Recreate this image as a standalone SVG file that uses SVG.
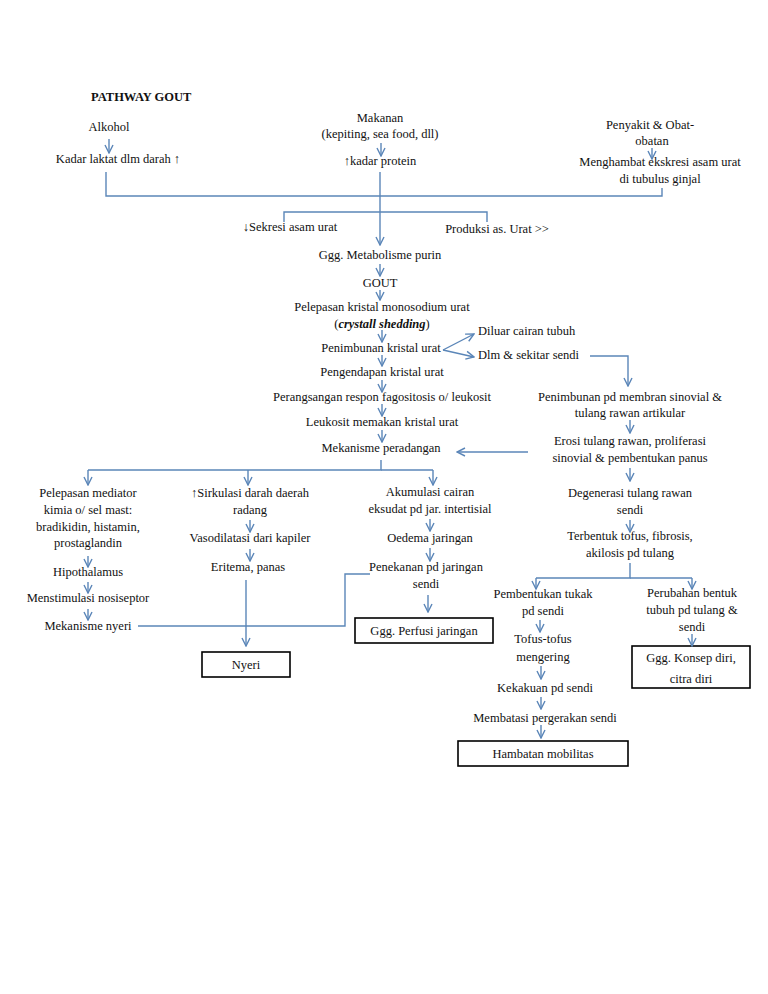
<svg xmlns="http://www.w3.org/2000/svg" width="768" height="994" viewBox="0 0 768 994">
<defs>
<marker id="a" viewBox="0 0 10 10" refX="9" refY="5" markerWidth="10" markerHeight="10" markerUnits="userSpaceOnUse" orient="auto">
<path d="M1,1 L9,5 L1,9" fill="none" stroke="#5b86b8" stroke-width="1.4"/>
</marker>
<style>
text{font-family:"Liberation Serif","Times New Roman",serif;font-size:12.5px;fill:#111;text-anchor:middle}
.l{text-anchor:start}
.c line,.c polyline{stroke:#5b86b8;stroke-width:1.4;fill:none}
.ar{marker-end:url(#a)}
rect{fill:#fff;stroke:#000;stroke-width:1.6}
</style>
</defs>
<rect x="0" y="0" width="768" height="994" style="stroke:none"/>
<text x="91" y="101" class="l" style="font-weight:bold">PATHWAY GOUT</text>
<g id="alkohol"><text x="109" y="131">Alkohol</text></g>
<g id="laktat"><text x="118" y="163">Kadar laktat dlm darah ↑</text></g>
<g id="makanan"><text x="380" y="122">Makanan</text><text x="380" y="138">(kepiting, sea food, dll)</text></g>
<g id="protein"><text x="380" y="165">↑kadar protein</text></g>
<g id="penyakit"><text x="650" y="129">Penyakit &amp; Obat-</text><text x="652" y="145">obatan</text></g>
<g id="menghambat"><text x="660" y="166">Menghambat ekskresi asam urat</text><text x="660" y="183">di tubulus ginjal</text></g>
<g id="sekresi"><text x="290" y="231">↓Sekresi asam urat</text></g>
<g id="produksi"><text x="497" y="233">Produksi as. Urat &gt;&gt;</text></g>
<g id="metabolisme"><text x="380" y="259">Ggg. Metabolisme purin</text></g>
<g id="gout"><text x="380" y="287">GOUT</text></g>
<g id="pelepasan"><text x="382" y="311">Pelepasan kristal monosodium urat</text><text x="382" y="328">(<tspan style="font-style:italic;font-weight:bold">crystall shedding</tspan>)</text></g>
<g id="penimbunan"><text x="381" y="352">Penimbunan kristal urat</text></g>
<g id="diluar"><text x="478" y="335" class="l">Diluar cairan tubuh</text></g>
<g id="dlm"><text x="478" y="359" class="l">Dlm &amp; sekitar sendi</text></g>
<g id="pengendapan"><text x="382" y="376">Pengendapan kristal urat</text></g>
<g id="perangsangan"><text x="382" y="401">Perangsangan respon fagositosis o/ leukosit</text></g>
<g id="leukosit"><text x="382" y="426">Leukosit memakan kristal urat</text></g>
<g id="mekanisme"><text x="381" y="452">Mekanisme peradangan</text></g>
<g id="membran"><text x="630" y="401">Penimbunan pd membran sinovial &amp;</text><text x="630" y="417">tulang rawan artikular</text></g>
<g id="erosi"><text x="630" y="445">Erosi tulang rawan, proliferasi</text><text x="630" y="462">sinovial &amp; pembentukan panus</text></g>
<g id="mediator"><text x="88" y="497">Pelepasan mediator</text><text x="88" y="514">kimia o/ sel mast:</text><text x="88" y="531">bradikidin, histamin,</text><text x="88" y="547">prostaglandin</text></g>
<g id="hipothalamus"><text x="88" y="576">Hipothalamus</text></g>
<g id="nosiseptor"><text x="88" y="602">Menstimulasi nosiseptor</text></g>
<g id="nyerimek"><text x="88" y="630">Mekanisme nyeri</text></g>
<g id="sirkulasi"><text x="250" y="497">↑Sirkulasi darah daerah</text><text x="250" y="514">radang</text></g>
<g id="vasodilatasi"><text x="250" y="542">Vasodilatasi dari kapiler</text></g>
<g id="eritema"><text x="248" y="571">Eritema, panas</text></g>
<g id="nyeri"><rect x="202" y="652" width="88" height="25"/><text x="246" y="669">Nyeri</text></g>
<g id="akumulasi"><text x="430" y="496">Akumulasi cairan</text><text x="430" y="513">eksudat pd jar. intertisial</text></g>
<g id="oedema"><text x="430" y="542">Oedema jaringan</text></g>
<g id="penekanan"><text x="426" y="571">Penekanan pd jaringan</text><text x="426" y="588">sendi</text></g>
<g id="perfusi"><rect x="355" y="618" width="138" height="25"/><text x="424" y="635">Ggg. Perfusi jaringan</text></g>
<g id="degenerasi"><text x="630" y="497">Degenerasi tulang rawan</text><text x="630" y="514">sendi</text></g>
<g id="tofus"><text x="630" y="540">Terbentuk tofus, fibrosis,</text><text x="630" y="557">akilosis pd tulang</text></g>
<g id="tukak"><text x="543" y="598">Pembentukan tukak</text><text x="543" y="615">pd sendi</text></g>
<g id="mengering"><text x="543" y="643">Tofus-tofus</text><text x="543" y="661">mengering</text></g>
<g id="kekakuan"><text x="545" y="692">Kekakuan pd sendi</text></g>
<g id="membatasi"><text x="545" y="722">Membatasi pergerakan sendi</text></g>
<g id="mobilitas"><rect x="458" y="741" width="170" height="25"/><text x="543" y="758">Hambatan mobilitas</text></g>
<g id="perubahan"><text x="692" y="597">Perubahan bentuk</text><text x="692" y="614">tubuh pd tulang &amp;</text><text x="692" y="631">sendi</text></g>
<g id="konsep"><rect x="632" y="646" width="118" height="42"/><text x="691" y="662">Ggg. Konsep diri,</text><text x="691" y="683">citra diri</text></g>
<g class="c" id="connectors">
<line class="ar" x1="109" y1="139" x2="109" y2="153"/>
<line class="ar" x1="381" y1="143" x2="381" y2="156"/>
<line class="ar" x1="652" y1="148" x2="652" y2="159"/>
<polyline points="106,172 106,196 662,196 662,188"/>
<line class="ar" x1="380" y1="172" x2="380" y2="245"/>
<polyline points="284,222 284,212 487,212 487,222"/>
<line class="ar" x1="380" y1="264" x2="380" y2="276"/>
<line class="ar" x1="380" y1="290" x2="380" y2="300"/>
<line class="ar" x1="382" y1="330" x2="382" y2="342"/>
<line class="ar" x1="443" y1="350" x2="474" y2="334"/>
<line class="ar" x1="443" y1="350" x2="474" y2="357"/>
<polyline class="ar" points="590,356 628,356 628,386"/>
<line class="ar" x1="382" y1="355" x2="382" y2="366"/>
<line class="ar" x1="382" y1="380" x2="382" y2="392"/>
<line class="ar" x1="382" y1="404" x2="382" y2="416"/>
<line class="ar" x1="382" y1="430" x2="382" y2="442"/>
<line class="ar" x1="528" y1="452" x2="457" y2="452"/>
<line class="ar" x1="630" y1="420" x2="630" y2="433"/>
<line class="ar" x1="630" y1="468" x2="630" y2="481"/>
<polyline points="381,460 381,470 88,470"/>
<line x1="381" y1="470" x2="433" y2="470"/>
<line class="ar" x1="88" y1="470" x2="88" y2="485"/>
<line class="ar" x1="248" y1="470" x2="248" y2="485"/>
<line class="ar" x1="433" y1="470" x2="433" y2="485"/>
<line class="ar" x1="88" y1="556" x2="88" y2="567"/>
<line class="ar" x1="88" y1="582" x2="88" y2="593"/>
<line class="ar" x1="88" y1="609" x2="88" y2="620"/>
<polyline points="138,626 345,626 345,574 370,574"/>
<line class="ar" x1="250" y1="520" x2="250" y2="532"/>
<line class="ar" x1="250" y1="549" x2="250" y2="561"/>
<line class="ar" x1="246" y1="580" x2="246" y2="646"/>
<line class="ar" x1="430" y1="519" x2="430" y2="531"/>
<line class="ar" x1="430" y1="548" x2="430" y2="561"/>
<line class="ar" x1="428" y1="595" x2="428" y2="612"/>
<line class="ar" x1="630" y1="520" x2="630" y2="532"/>
<polyline points="630,563 630,578 536,578"/>
<line x1="630" y1="578" x2="692" y2="578"/>
<line class="ar" x1="536" y1="578" x2="536" y2="589"/>
<line class="ar" x1="692" y1="578" x2="692" y2="589"/>
<line class="ar" x1="540" y1="620" x2="540" y2="632"/>
<line class="ar" x1="541" y1="666" x2="541" y2="679"/>
<line class="ar" x1="541" y1="697" x2="541" y2="709"/>
<line class="ar" x1="541" y1="725" x2="541" y2="738"/>
<line class="ar" x1="692" y1="634" x2="692" y2="646"/>
</g>
</svg>
